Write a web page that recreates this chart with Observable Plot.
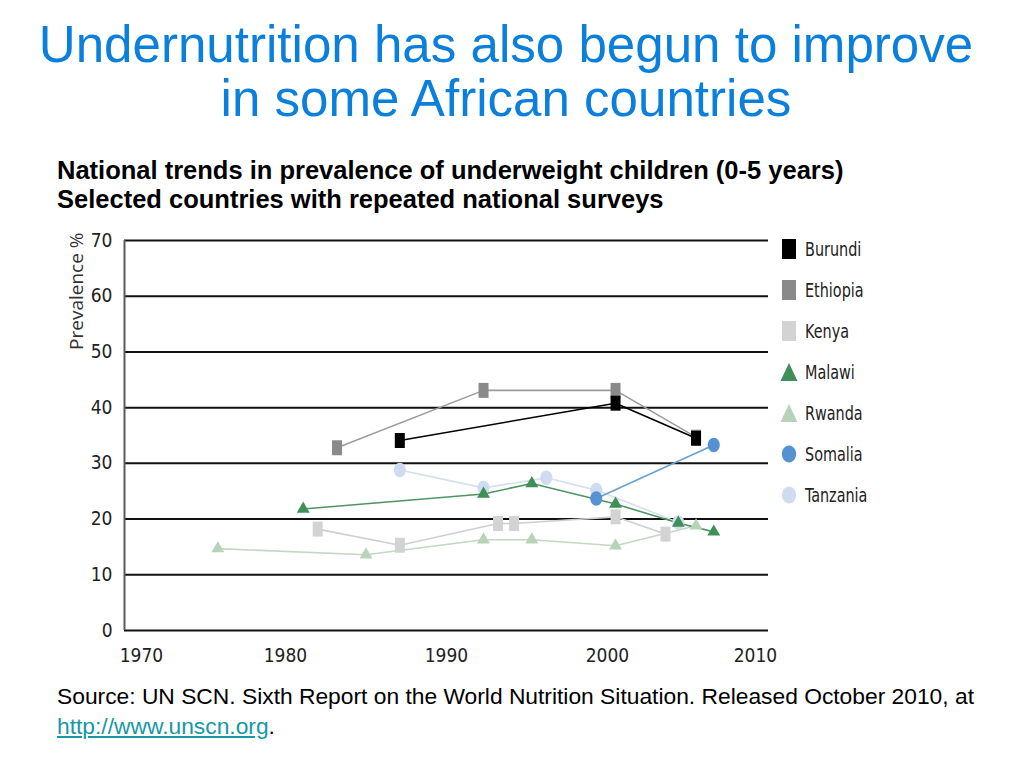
<!DOCTYPE html>
<html>
<head>
<meta charset="utf-8">
<script src="https://cdn.jsdelivr.net/npm/d3@7"></script>
<script src="https://cdn.jsdelivr.net/npm/@observablehq/plot@0.6"></script>
<style>
  html, body { margin: 0; padding: 0; background: #fff; width: 1024px; height: 768px; overflow: hidden; }
  body { position: relative; font-family: "Liberation Sans", Arial, sans-serif; }
  #title { position: absolute; top: 18px; left: 0; width: 1012px; text-align: center; font-size: 51.1px; line-height: 54px; color: #0b7fdc; }
  #subtitle { position: absolute; top: 156px; left: 57px; font-size: 25.5px; line-height: 29px; font-weight: bold; color: #000; }
  #chart { position: absolute; top: 225px; left: 0; }
  #chart svg { overflow: visible; }
  #legend { position: absolute; top: 228px; left: 779px; font-family: "DejaVu Sans Condensed", sans-serif; font-size: 20px; color: #222; }
  .item { height: 41px; display: flex; align-items: center; }
  .item svg { width: 20px; height: 22px; margin-right: 6px; }
  .item span { display: inline-block; transform: scaleX(0.8); transform-origin: left center; }
  #source { position: absolute; top: 681px; left: 57px; font-size: 22.8px; line-height: 30px; color: #000; }
  #source a { color: #1698a6; text-decoration: underline; }
</style>
</head>
<body>
<div id="title">Undernutrition has also begun to improve<br>in some African countries</div>
<div id="subtitle">National trends in prevalence of underweight children (0-5 years)<br>Selected countries with repeated national surveys</div>
<div id="chart"></div>
<div id="legend"></div>
<div id="source">Source: UN SCN. Sixth Report on the World Nutrition Situation. Released October 2010, at<br><a href="http://www.unscn.org">http://www.unscn.org</a>.</div>
<script>
// ---- data ----
const countries = ["Burundi", "Ethiopia", "Kenya", "Malawi", "Rwanda", "Somalia", "Tanzania"];
const markerShapes = ["square", "square", "square", "triangle", "triangle", "circle", "circle"];
const fillColors = ["#000000", "#8a8a8a", "#d3d3d3", "#3f8f58", "#b8d3ba", "#5592cf", "#cfdcef"];
const lineColors = ["#000000", "#9c9c9c", "#cfcfcf", "#4e9464", "#c2d8c3", "#6a9fd3", "#d6dfee"];

const burundiYears = [1987.1, 2000.5, 2005.5];
const burundiValues = [34.1, 40.8, 34.5];
const ethiopiaYears = [1983.2, 1992.3, 2000.5, 2005.5];
const ethiopiaValues = [32.8, 43.1, 43.1, 34.7];
const kenyaYears = [1982.0, 1987.1, 1993.2, 1994.2, 2000.5, 2003.6];
const kenyaValues = [18.2, 15.3, 19.2, 19.2, 20.4, 17.3];
const malawiYears = [1981.1, 1992.3, 1995.3, 2000.5, 2004.4, 2006.6];
const malawiValues = [21.8, 24.5, 26.4, 22.7, 19.3, 17.7];
const rwandaYears = [1975.8, 1985.0, 1992.3, 1995.3, 2000.5, 2005.5];
const rwandaValues = [14.7, 13.6, 16.3, 16.3, 15.2, 18.8];
const somaliaYears = [1999.3, 2006.6];
const somaliaValues = [23.7, 33.3];
const tanzaniaYears = [1987.1, 1992.3, 1996.2, 1999.3, 2004.4];
const tanzaniaValues = [28.8, 25.6, 27.4, 25.2, 19.4];

const yTicks = [0, 10, 20, 30, 40, 50, 60, 70];
const xTicks = [1970, 1980, 1990, 2000, 2010];
const yLabel = "Prevalence %";

// ---- build rows ----
const seriesYears = {Burundi: burundiYears, Ethiopia: ethiopiaYears, Kenya: kenyaYears, Malawi: malawiYears, Rwanda: rwandaYears, Somalia: somaliaYears, Tanzania: tanzaniaYears};
const seriesValues = {Burundi: burundiValues, Ethiopia: ethiopiaValues, Kenya: kenyaValues, Malawi: malawiValues, Rwanda: rwandaValues, Somalia: somaliaValues, Tanzania: tanzaniaValues};
const drawOrder = ["Tanzania", "Rwanda", "Kenya", "Ethiopia", "Malawi", "Somalia", "Burundi"];
const rowsOf = c => seriesYears[c].map((year, i) => ({country: c, year, value: seriesValues[c][i]}));

// ---- symbols ----
const tallRect = {draw(ctx, size) { const w = Math.sqrt(size / 1.5), h = w * 1.5; ctx.rect(-w / 2, -h / 2, w, h); }};
const ellipse = {draw(ctx, size) {
  const a = Math.sqrt(size / Math.PI / 1.2), rx = a, ry = a * 1.2, k = 0.5523;
  ctx.moveTo(rx, 0);
  ctx.bezierCurveTo(rx, ry * k, rx * k, ry, 0, ry);
  ctx.bezierCurveTo(-rx * k, ry, -rx, ry * k, -rx, 0);
  ctx.bezierCurveTo(-rx, -ry * k, -rx * k, -ry, 0, -ry);
  ctx.bezierCurveTo(rx * k, -ry, rx, -ry * k, rx, 0);
  ctx.closePath();
}};
const shapeSymbol = {square: tallRect, triangle: d3.symbolTriangle, circle: ellipse};
const shapeR = {square: 6.9, triangle: 4.8, circle: 6.6};

const axisFont = '"DejaVu Sans Condensed", sans-serif';
const tickStyle = {tickSize: 0, fontSize: 19, fontFamily: axisFont, fill: "#222", label: null, tickFormat: d => String(d)};

const marks = [
  Plot.ruleY(yTicks, {stroke: "#111", strokeWidth: 2}),
  Plot.ruleX([1970], {stroke: "#5a5a5a", strokeWidth: 2}),
  Plot.axisY(yTicks, {...tickStyle, tickPadding: 12}),
  Plot.axisX(xTicks.slice(1, -1), {...tickStyle, tickPadding: 18}),
  Plot.axisX(xTicks.slice(0, 1), {...tickStyle, tickPadding: 18, dx: 17}),
  Plot.axisX(xTicks.slice(-1), {...tickStyle, tickPadding: 18, dx: -13}),
  Plot.text([yLabel], {text: d => d, frameAnchor: "top-left", rotate: -90, textAnchor: "end", dx: -55, dy: -8, fontSize: 19, fill: "#333", fontFamily: '"Open Sans", sans-serif', letterSpacing: "0.5px"})
];
for (const c of drawOrder) {
  const i = countries.indexOf(c);
  marks.push(Plot.line(rowsOf(c), {x: "year", y: "value", stroke: lineColors[i], strokeWidth: 1.6}));
}
for (const c of drawOrder) {
  const i = countries.indexOf(c);
  const shape = markerShapes[i];
  marks.push(Plot.dot(rowsOf(c), {x: "year", y: "value", symbol: shapeSymbol[shape], r: shapeR[shape], fill: fillColors[i], stroke: "none"}));
}

const chart = Plot.plot({
  width: 780, height: 440,
  marginLeft: 124, marginRight: 12, marginTop: 15, marginBottom: 35,
  x: {domain: [1970, 2010], axis: null},
  y: {domain: [0, 70], axis: null},
  style: {fontFamily: axisFont, fontSize: "19px", background: "transparent", color: "#222"},
  marks
});
document.getElementById("chart").appendChild(chart);

// ---- legend ----
const legend = document.getElementById("legend");
const ns = "http://www.w3.org/2000/svg";
countries.forEach((c, i) => {
  const item = document.createElement("div");
  item.className = "item";
  const svg = document.createElementNS(ns, "svg");
  svg.setAttribute("viewBox", "-10 -11 20 22");
  const path = document.createElementNS(ns, "path");
  const shape = markerShapes[i];
  let d;
  if (shape === "square") d = "M-7,-10H7V10H-7Z";
  else if (shape === "triangle") d = "M0,-9L8.5,9H-8.5Z";
  else d = d3.symbol(ellipse, Math.PI * 8 * 8 * 0.95)();
  path.setAttribute("d", d);
  path.setAttribute("fill", fillColors[i]);
  svg.appendChild(path);
  item.appendChild(svg);
  const label = document.createElement("span");
  label.textContent = c;
  item.appendChild(label);
  legend.appendChild(item);
});
</script>
</body>
</html>
